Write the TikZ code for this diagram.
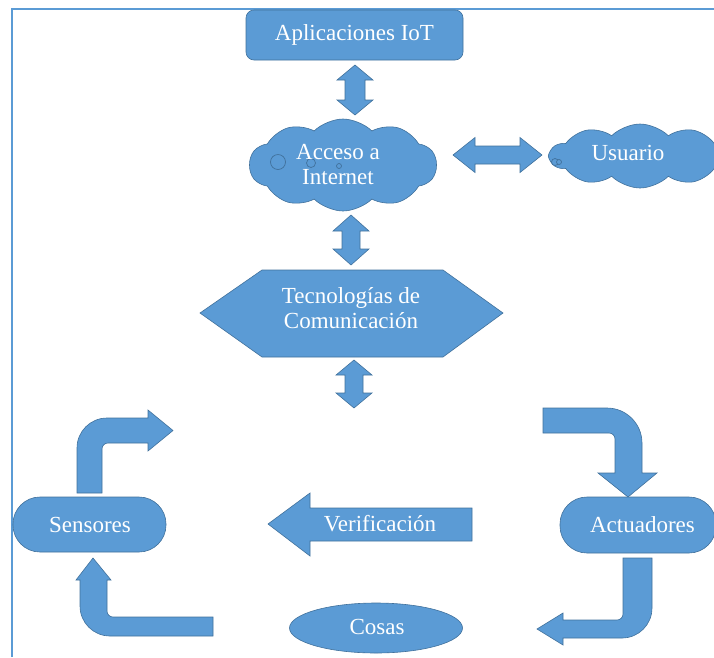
\documentclass[tikz,border=0pt]{standalone}
\usepackage{fontspec}
\setmainfont{Liberation Serif}
\usetikzlibrary{shapes.symbols,shapes.geometric}
\definecolor{boxblue}{HTML}{5B9BD5}
\definecolor{edgeblue}{HTML}{41719C}
\begin{document}
\begin{tikzpicture}[x=1pt,y=-1pt,
  blockshape/.style={fill=boxblue,draw=edgeblue,line width=0.6pt},
  label/.style={text=white,font=\fontsize{23}{26}\selectfont,align=center,inner sep=0pt},
  roundbox/.style={blockshape,rounded corners=8pt},
  stadium/.style={blockshape,rounded corners=27pt},
  puffy/.style={cloud,blockshape,cloud puffs=10,cloud puff arc=90,cloud ignores aspect,inner sep=0pt},
  bubble/.style={fill=boxblue,draw=edgeblue,line width=0.7pt}]
\useasboundingbox (0,0) rectangle (714,657);

% page frame
\draw[boxblue,line width=2pt] (12,657) -- (12,8.5) -- (714,8.5);

% top application box
\draw[roundbox] (246,10) rectangle (463,60);
\node[label] (apps) at (354.5,35) {Aplicaciones IoT};

% double arrow: applications <-> internet
\fill[blockshape] (355,65) -- (373,80) -- (365,80) -- (365,100) -- (373,100)
  -- (355,115) -- (337,100) -- (345,100) -- (345,80) -- (337,80) -- cycle;

% internet cloud
\node[puffy,minimum width=187pt,minimum height=92pt] (inet) at (343,165) {};
\draw[bubble] (278,162) circle (7.5);
\draw[bubble] (311,163) circle (4.5);
\draw[bubble] (339,166) circle (2.5);
\node[label] (inettxt) at (338,164.5) {Acceso a\\[-1pt]Internet};

% double arrow: internet <-> user
\fill[blockshape] (453,155) -- (475,137.5) -- (475,146) -- (520,146) -- (520,137.5)
  -- (542,155) -- (520,172.5) -- (520,164) -- (475,164) -- (475,172.5) -- cycle;

% user cloud
\node[puffy,minimum width=180pt,minimum height=64pt] (user) at (640,156) {};
\draw[bubble] (555,162) circle (3.5);
\draw[bubble] (559,162) circle (2.5);
\node[label] (usertxt) at (628,153) {Usuario};

% double arrow: internet <-> communication
\fill[blockshape] (351,215) -- (369,231) -- (360,231) -- (360,249) -- (369,249)
  -- (351,265) -- (333,249) -- (342,249) -- (342,231) -- (333,231) -- cycle;

% communication hexagon
\draw[blockshape] (200,313) -- (262,270) -- (443,270) -- (503,313) -- (443,357) -- (262,357) -- cycle;
\node[label] (comm) at (351,308) {Tecnologías de\\[-1pt]Comunicación};

% double arrow below hexagon
\fill[blockshape] (354,360) -- (372,375) -- (363,375) -- (363,393) -- (372,393)
  -- (354,408) -- (336,393) -- (345,393) -- (345,375) -- (336,375) -- cycle;

% bent arrow: sensors up and right
\fill[blockshape] (77,493) -- (77,448) .. controls (77,431.4) and (90.4,418) .. (107,418)
  -- (148,418) -- (148,410) -- (173,430.5) -- (148,451) -- (148,443) -- (108,443)
  .. controls (104.7,443) and (102,445.7) .. (102,449) -- (102,493) -- cycle;

% sensors
\draw[stadium] (13,497) rectangle (166,552);
\node[label] (sens) at (90,524.5) {Sensores};

% bent arrow: from the bottom back up into sensors
\fill[blockshape] (93,558) -- (111,580) -- (107,580) -- (107,611)
  .. controls (107,614.3) and (109.7,617) .. (113,617) -- (213,617) -- (213,636) -- (110,636)
  .. controls (93.4,636) and (80,622.6) .. (80,606) -- (80,580) -- (76,580) -- cycle;

% bent arrow: right and down into actuators
\fill[blockshape] (543,408) -- (607,408) .. controls (626.3,408) and (642,423.7) .. (642,443)
  -- (642,473) -- (657,473) -- (628,497) -- (598,473) -- (615,473) -- (615,439)
  .. controls (615,435.7) and (612.3,433) .. (609,433) -- (543,433) -- cycle;

% actuators
\draw[stadium] (560,497) rectangle (716,553);
\node[label] (act) at (642.5,524.5) {Actuadores};

% bent arrow: actuators down and left
\fill[blockshape] (623,558) -- (652,558) -- (652,608) .. controls (652,624.6) and (638.6,638) .. (622,638)
  -- (563,638) -- (563,645) -- (537,629) -- (563,613) -- (563,620) -- (617,620)
  .. controls (620.3,620) and (623,617.3) .. (623,614) -- cycle;

% verification arrow
\fill[blockshape] (268,524) -- (310,493) -- (310,508) -- (472,508) -- (472,541) -- (310,541) -- (310,556) -- cycle;
\node[label] (verif) at (380,524) {Verificación};

% things
\node[ellipse,blockshape,minimum width=173pt,minimum height=50pt,inner sep=0pt] (things) at (376,628) {};
\node[label] (thingstxt) at (377,627) {Cosas};
\end{tikzpicture}
\end{document}
